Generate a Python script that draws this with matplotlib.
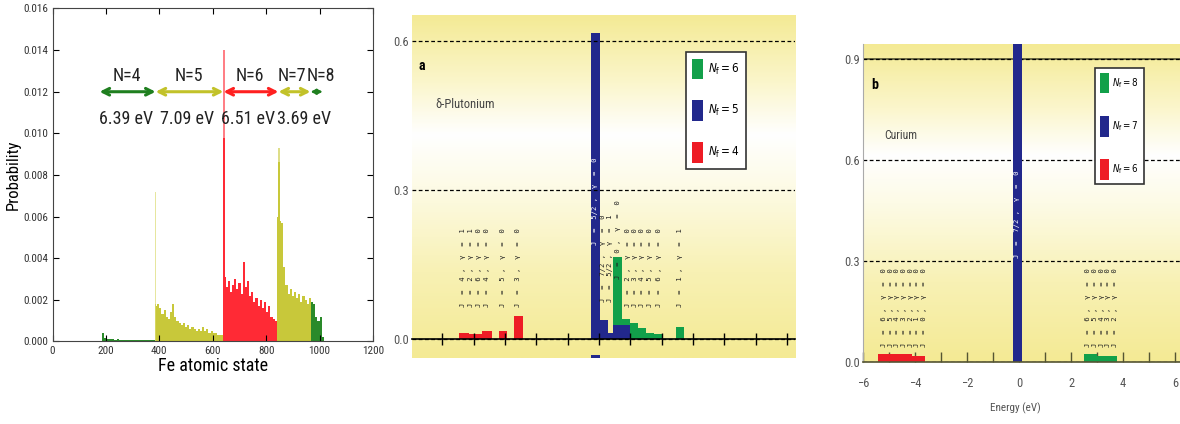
import numpy as np
import matplotlib.pyplot as plt
from matplotlib import font_manager
from matplotlib.colors import LinearSegmentedColormap

# narrow face if one is installed, plain DejaVu Sans otherwise
names = {f.name for f in font_manager.fontManager.ttflist}
narrow = next((n for n in ['Liberation Sans Narrow', 'Roboto Condensed',
                           'Open Sans Condensed'] if n in names), 'DejaVu Sans')
plt.rcParams['font.family'] = [narrow, 'DejaVu Sans']
plt.rcParams['font.stretch'] = 'condensed'

# ---------------- panel 1 : Fe atomic state histogram ----------------
bin_w = 8
n4_start = 184
n4_vals = [0.00042, 0.00018, 0.00012, 0.00010, 0.00011, 0.00010, 0.00009, 0.00010,
           0.00009, 0.00008, 0.00009, 0.00008, 0.00007, 0.00008, 0.00007, 0.00007,
           0.00006, 0.00007, 0.00006, 0.00006, 0.00005, 0.00006, 0.00005, 0.00005, 0.00005]
n5_start = 384
n5_vals = [0.0017, 0.0018, 0.0016, 0.0013, 0.0015, 0.0012, 0.0011, 0.0014,
           0.0018, 0.0012, 0.0010, 0.0009, 0.0008, 0.0009, 0.0007, 0.0008,
           0.0006, 0.0007, 0.0006, 0.0005, 0.0006, 0.0005, 0.0007, 0.0005,
           0.0006, 0.0004, 0.0005, 0.0004, 0.0004, 0.0003, 0.0003, 0.0003]
n6_start = 640
n6_vals = [0.0031, 0.0026, 0.0029, 0.0024, 0.0027, 0.0030, 0.0025, 0.0028,
           0.0023, 0.0038, 0.0026, 0.0029, 0.0022, 0.0024, 0.0019, 0.0021,
           0.0017, 0.0020, 0.0016, 0.0019, 0.0014, 0.0017, 0.0012, 0.0011, 0.0010]
n7_start = 840
n7_vals = [0.0060, 0.0058, 0.0057, 0.0036, 0.0027, 0.0023, 0.0025, 0.0022,
           0.0024, 0.0021, 0.0023, 0.0019, 0.0022, 0.0020, 0.0018, 0.0021]
n8_start = 968
n8_vals = [0.0019, 0.0018, 0.0012, 0.0010, 0.0012, 0.0002]

spike_x = [386, 642, 848]
spike_top = [0.0072, 0.0140, 0.0093]
spike_solid = [0.0018, 0.0098, 0.0086]

arrow_edges = [176, 386, 640, 846, 966, 1012]
n_labels = ['N=4', 'N=5', 'N=6', 'N=7', 'N=8']
n_label_x = [277, 510, 738, 898, 1005]
ev_labels = ['6.39 eV', '7.09 eV', '6.51 eV', '3.69 eV']
ev_label_x = [277, 505, 733, 942]

# ---------------- panel a : delta-Plutonium ----------------
red_a_left = [-4.47, -4.15, -3.74, -3.19, -2.72]
red_a_right = [-4.15, -3.74, -3.42, -2.94, -2.43]
red_a_h = [0.013, 0.010, 0.017, 0.017, 0.047]
green_a_left = [0.45, 0.73, 0.99, 1.25, 1.50, 1.76, 2.46]
green_a_right = [0.73, 0.99, 1.25, 1.50, 1.76, 2.02, 2.72]
green_a_h = [0.166, 0.041, 0.032, 0.023, 0.013, 0.010, 0.025]
blue_a_left = [-0.26, 0.03, 0.29, 0.45]
blue_a_right = [0.03, 0.29, 0.45, 0.99]
blue_a_h = [0.617, 0.038, 0.013, 0.029]

labels_a_x = [-4.34, -4.09, -3.83, -3.58, -3.07, -2.59,
              0.12, 0.36, 0.62,
              0.92, 1.15, 1.38, 1.63, 1.90, 2.59]
labels_a_y = [0.064, 0.064, 0.064, 0.064, 0.064, 0.064,
              0.074, 0.074, 0.12,
              0.064, 0.064, 0.064, 0.064, 0.064, 0.064]
labels_a = ['J  =  4 ,  γ  =  1', 'J  =  2 ,  γ  =  1', 'J  =  6 ,  γ  =  0',
            'J  =  4 ,  γ  =  0', 'J  =  5 ,  γ  =  0', 'J  =  3 ,  γ  =  0',
            'J  =  7/2 ,  γ  =  0', 'J  =  5/2 ,  γ  =  1', 'J  =  0 ,  γ  =  0',
            'J  =  2 ,  γ  =  0', 'J  =  3 ,  γ  =  0', 'J  =  4 ,  γ  =  0',
            'J  =  5 ,  γ  =  0', 'J  =  6 ,  γ  =  0', 'J  =  1 ,  γ  =  1']
legend_a = ['$N_\\mathrm{f} = 6$', '$N_\\mathrm{f} = 5$', '$N_\\mathrm{f} = 4$']

# ---------------- panel b : Curium ----------------
red_b_left = [-5.41, -4.13]
red_b_right = [-4.13, -3.62]
red_b_h = [0.023, 0.019]
green_b_left = [2.50, 3.01]
green_b_right = [3.01, 3.78]
green_b_h = [0.023, 0.019]
blue_b_left = [-0.22]
blue_b_right = [0.10]
blue_b_h = [1.0]

labels_b_x = [-5.19, -4.93, -4.68, -4.42, -4.17, -3.91, -3.66,
              2.67, 2.92, 3.18, 3.43, 3.69]
labels_b = ['J  =  6 ,  γ  =  0', 'J  =  5 ,  γ  =  0', 'J  =  4 ,  γ  =  0',
            'J  =  3 ,  γ  =  0', 'J  =  2 ,  γ  =  0', 'J  =  1 ,  γ  =  0',
            'J  =  0 ,  γ  =  0',
            'J  =  6 ,  γ  =  0', 'J  =  5 ,  γ  =  0', 'J  =  4 ,  γ  =  0',
            'J  =  3 ,  γ  =  0', 'J  =  2 ,  γ  =  0']
legend_b = ['$N_\\mathrm{f} = 8$', '$N_\\mathrm{f} = 7$', '$N_\\mathrm{f} = 6$']

fig = plt.figure(figsize=(11.8, 4.24), dpi=100)

# ===== panel 1 =====
ax1 = fig.add_axes([0.0445, 0.1946, 0.2716, 0.7854])
c_g, c_y, c_r = '#2a8a2a', '#c8c83a', '#ff2a35'
for start, vals, col in [(n4_start, n4_vals, c_g), (n5_start, n5_vals, c_y),
                         (n6_start, n6_vals, c_r), (n7_start, n7_vals, c_y),
                         (n8_start, n8_vals, c_g)]:
    xs = start + bin_w * np.arange(len(vals))
    ax1.bar(xs, vals, width=bin_w, align='edge', color=col, linewidth=0)
spike_cols = ['#d6d660', c_r, c_y]
ax1.bar(spike_x, spike_top, width=4, color=spike_cols, alpha=0.6, linewidth=0)
ax1.bar(spike_x, spike_solid, width=4, color=spike_cols, linewidth=0)

arrow_cols = ['#1f7f1f', '#c2c22a', '#ff2020', '#c2c22a', '#1f7f1f']
for i in range(5):
    ax1.annotate('', xy=(arrow_edges[i + 1], 0.012), xytext=(arrow_edges[i], 0.012),
                 arrowprops=dict(arrowstyle='<->', color=arrow_cols[i],
                                 lw=2.2 if i < 4 else 1.6, shrinkA=0, shrinkB=0,
                                 mutation_scale=12 if i < 4 else 7))
for x, t in zip(n_label_x, n_labels):
    ax1.text(x, 0.01275, t, ha='center', va='center', fontsize=13, color='#222')
for x, t in zip(ev_label_x, ev_labels):
    ax1.text(x, 0.0107, t, ha='center', va='center', fontsize=13, color='#222')

ax1.set_xlim(0, 1200)
ax1.set_ylim(0, 0.016)
ax1.set_xticks(range(0, 1201, 200))
ax1.set_yticks(np.arange(0, 0.0161, 0.002))
ax1.yaxis.set_major_formatter(plt.FormatStrFormatter('%.3f'))
ax1.tick_params(direction='in', top=True, right=True, labelsize=8, length=4,
                labelcolor='#333', pad=3)
ax1.set_xlabel('Fe atomic state', fontsize=13, labelpad=1)
ax1.set_ylabel('Probability', fontsize=12, labelpad=2)
for s in ax1.spines.values():
    s.set_color('#444')

bg = LinearSegmentedColormap.from_list('bg', [(0, '#f4ea94'), (0.25, '#f8f1b4'),
                                              (0.5, '#fdfbe6'), (0.65, '#ffffff'),
                                              (0.8, '#fbf6cc'), (1, '#f4ea94')])
grad = np.linspace(0, 1, 256).reshape(-1, 1)
c_green, c_blue, c_red = '#12a04a', '#22288c', '#ee1c25'
lab_font = dict(rotation=90, ha='center', va='bottom', fontsize=5.2,
                family='DejaVu Sans Mono', zorder=3)

# ===== panel a =====
ax2 = fig.add_axes([0.3492, 0.1557, 0.3246, 0.809])
xa0, xa1, ya0, ya1 = -5.97, 6.26, -0.0383, 0.6523
ax2.imshow(grad, cmap=bg, extent=[xa0, xa1, ya0, ya1], aspect='auto',
           origin='lower', zorder=0)
rb = ax2.bar(red_a_left, red_a_h, width=np.subtract(red_a_right, red_a_left),
             align='edge', color=c_red, linewidth=0, zorder=2)
gb = ax2.bar(green_a_left, green_a_h, width=np.subtract(green_a_right, green_a_left),
             align='edge', color=c_green, linewidth=0, zorder=2)
bb = ax2.bar(blue_a_left, blue_a_h, width=np.subtract(blue_a_right, blue_a_left),
             align='edge', color=c_blue, linewidth=0, zorder=2)
ax2.bar(blue_a_left[0], 0.006, bottom=ya0, width=blue_a_right[0] - blue_a_left[0],
        align='edge', color=c_blue, linewidth=0, zorder=2)
for x, y, t in zip(labels_a_x, labels_a_y, labels_a):
    ax2.text(x, y, t, color='#222', **lab_font)
ax2.text(-0.13, 0.19, 'J  =  5/2 ,  γ  =  0', color='white', **lab_font)
ax2.set_xlim(xa0, xa1)
ax2.set_ylim(ya0, ya1)
ax2.set_yticks([0.0, 0.3, 0.6])
ax2.set_yticklabels(['0.0', '0.3', '0.6'])
ax2.set_xticks(range(-5, 7))
ax2.grid(axis='y', color='black', linestyle=(0, (3, 2)), lw=0.9)
ax2.set_axisbelow(False)
ax2.tick_params(axis='x', direction='inout', length=9, width=1, labelbottom=False)
ax2.tick_params(axis='y', length=0, labelsize=9, labelcolor='#555', pad=2)
for s in ['left', 'top', 'right']:
    ax2.spines[s].set_visible(False)
ax2.spines['bottom'].set_position(('data', 0))
ax2.spines['bottom'].set_linewidth(1.2)
ax2.text(0.016, 0.84, 'a', transform=ax2.transAxes, fontsize=10, fontweight='bold')
ax2.text(0.06, 0.73, 'δ-Plutonium', transform=ax2.transAxes, fontsize=9, color='#444')
leg = ax2.legend([gb, bb, rb], legend_a, loc='upper left', bbox_to_anchor=(0.715, 0.892),
                 fontsize=8.5, handlelength=0.9, handleheight=2.3, labelspacing=1.8,
                 handletextpad=0.4, borderpad=0.55, borderaxespad=0, fancybox=False,
                 framealpha=1, edgecolor='#333')
leg.get_frame().set_linewidth(1.2)

# ===== panel b =====
ax3 = fig.add_axes([0.7314, 0.1462, 0.2686, 0.75])
xb0, xb1, yb0, yb1 = -6, 6.19, 0, 0.945
ax3.imshow(grad, cmap=bg, extent=[xb0, xb1, yb0, yb1], aspect='auto',
           origin='lower', zorder=0)
rb3 = ax3.bar(red_b_left, red_b_h, width=np.subtract(red_b_right, red_b_left),
              align='edge', color=c_red, linewidth=0, zorder=2)
gb3 = ax3.bar(green_b_left, green_b_h, width=np.subtract(green_b_right, green_b_left),
              align='edge', color=c_green, linewidth=0, zorder=2)
bb3 = ax3.bar(blue_b_left, blue_b_h, width=np.subtract(blue_b_right, blue_b_left),
              align='edge', color=c_blue, linewidth=0, zorder=2)
for x, t in zip(labels_b_x, labels_b):
    ax3.text(x, 0.046, t, color='#222', **lab_font)
ax3.text(-0.06, 0.31, 'J  =  7/2 ,  γ  =  0', color='white', **lab_font)
ax3.set_xlim(xb0, xb1)
ax3.set_ylim(yb0, yb1)
ax3.set_yticks([0.0, 0.3, 0.6, 0.9])
ax3.set_yticklabels(['0.0', '0.3', '0.6', '0.9'])
ax3.set_xticks(range(-6, 7, 2))
ax3.set_xticks(range(-5, 7, 2), minor=True)
ax3.grid(axis='y', color='black', linestyle=(0, (3, 2)), lw=0.9)
ax3.axhline(0.9, color='#555533', lw=1.2, zorder=1.5)
ax3.tick_params(axis='x', which='both', direction='in', length=7, width=1,
                labelsize=9, labelcolor='#555', pad=11, colors='#555533')
ax3.tick_params(axis='y', length=0, labelsize=9, labelcolor='#555', pad=2)
for s in ['top', 'right']:
    ax3.spines[s].set_visible(False)
ax3.spines['left'].set_color('#aaa')
ax3.spines['bottom'].set_color('#555533')
ax3.spines['bottom'].set_linewidth(1.2)
ax3.text(0.025, 0.86, 'b', transform=ax3.transAxes, fontsize=10, fontweight='bold')
ax3.text(0.066, 0.70, 'Curium', transform=ax3.transAxes, fontsize=8.5, color='#444')
leg3 = ax3.legend([gb3, bb3, rb3], legend_b, loc='upper left', bbox_to_anchor=(0.732, 0.925),
                  fontsize=7, handlelength=0.9, handleheight=2.9, labelspacing=2.3,
                  handletextpad=0.35, borderpad=0.5, borderaxespad=0, fancybox=False,
                  framealpha=1, edgecolor='#333')
leg3.get_frame().set_linewidth(1.2)
fig.text(1015 / 1180, 1 - 408 / 424, 'Energy (eV)', ha='center', va='center',
         fontsize=8, color='#555')

fig.savefig('out.png', dpi=100)
